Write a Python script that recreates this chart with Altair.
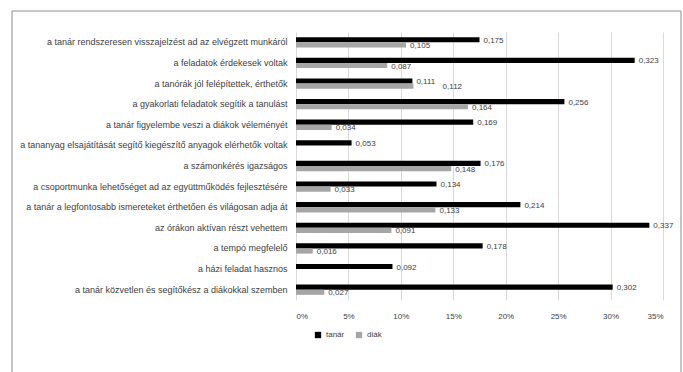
import altair as alt
import pandas as pd

# Survey statements, listed top to bottom
categories = [
    "a tanár rendszeresen visszajelzést ad az elvégzett munkáról",
    "a feladatok érdekesek voltak",
    "a tanórák jól felépítettek, érthetők",
    "a gyakorlati feladatok segítik a tanulást",
    "a tanár figyelembe veszi a diákok véleményét",
    "a tananyag elsajátítását segítő kiegészítő anyagok elérhetők voltak",
    "a számonkérés igazságos",
    "a csoportmunka lehetőséget ad az együttműködés fejlesztésére",
    "a tanár a legfontosabb ismereteket érthetően és világosan adja át",
    "az órákon aktívan részt vehettem",
    "a tempó megfelelő",
    "a házi feladat hasznos",
    "a tanár közvetlen és segítőkész a diákokkal szemben",
]
series_names = ["tanár", "diák"]
tanar_values = [0.175, 0.323, 0.111, 0.256, 0.169, 0.053, 0.176, 0.134, 0.214, 0.337, 0.178, 0.092, 0.302]
diak_values = [0.105, 0.087, 0.112, 0.164, 0.034, None, 0.148, 0.033, 0.133, 0.091, 0.016, None, 0.027]
x_ticks = [0, 0.05, 0.10, 0.15, 0.20, 0.25, 0.30, 0.35]

rows = []
for cat, a, b in zip(categories, tanar_values, diak_values):
    if a is not None:
        rows.append({"kategoria": cat, "csoport": series_names[0], "arany": a})
    if b is not None:
        rows.append({"kategoria": cat, "csoport": series_names[1], "arany": b})
df = pd.DataFrame(rows)

FONT = "Liberation Sans"
TXT = "#404040"

y_enc = alt.Y(
    "kategoria:N",
    sort=categories,
    title=None,
    scale=alt.Scale(paddingInner=0.5, paddingOuter=0.25),
    axis=alt.Axis(
        ticks=False,
        domain=False,
        labelFontSize=9,
        labelFont=FONT,
        labelColor=TXT,
        labelPadding=9,
        labelLimit=300,
    ),
)
x_enc = alt.X(
    "arany:Q",
    title=None,
    scale=alt.Scale(domain=[0, 0.35], nice=False),
    axis=alt.Axis(
        values=x_ticks,
        format=".0%",
        grid=True,
        gridColor="#d9d9d9",
        gridWidth=1,
        domain=False,
        ticks=False,
        labelFontSize=8,
        labelFont=FONT,
        labelColor=TXT,
        labelPadding=12,
    ),
)
y_off = alt.YOffset("csoport:N", sort=series_names)

base = alt.Chart(df)

bars = base.mark_bar().encode(
    y=y_enc,
    x=x_enc,
    yOffset=y_off,
    color=alt.Color(
        "csoport:N",
        sort=series_names,
        scale=alt.Scale(domain=series_names, range=["#000000", "#a6a6a6"]),
        legend=alt.Legend(
            title=None,
            orient="none",
            direction="horizontal",
            legendX=18,
            legendY=299,
            symbolType="square",
            symbolSize=40,
            labelFontSize=8,
            labelFont=FONT,
            labelColor=TXT,
            columnPadding=10,
        ),
    ),
)

# value labels; a label whose bar nearly equals the other bar of its row
# is pushed to the right so the two do not collide
labels = (
    base.transform_joinaggregate(sor_max="max(arany)", groupby=["kategoria"])
    .transform_calculate(
        felirat="replace(format(datum.arany, '.3f'), '.', ',')",
        cimke_x="datum.csoport == 'diák' && abs(datum.sor_max - datum.arany) < 0.01"
        " ? datum.arany + 0.024 : datum.arany",
    )
    .mark_text(align="left", dx=4, dy=1, fontSize=8, font=FONT, color=TXT)
    .encode(
        y=alt.Y("kategoria:N", sort=categories),
        x=alt.X("cimke_x:Q"),
        yOffset=y_off,
        text="felirat:N",
    )
)

# outer frame around the whole figure
frame = alt.Chart(pd.DataFrame({"k": [0]})).mark_rect(
    fill=None, stroke="#8c8c8c", strokeWidth=1
).encode(
    x=alt.value(-284),
    x2=alt.value(385),
    y=alt.value(-21),
    y2=alt.value(360),
)

chart = (
    alt.layer(frame, bars, labels)
    .properties(
        width=367,
        height=268,
        autosize=alt.AutoSizeParams(type="none"),
        padding={"left": 296, "top": 32, "right": 20, "bottom": 72},
        background="white",
    )
    .configure_view(stroke=None)
)

chart.save("out.html", embed_options={"renderer": "svg", "actions": False})
